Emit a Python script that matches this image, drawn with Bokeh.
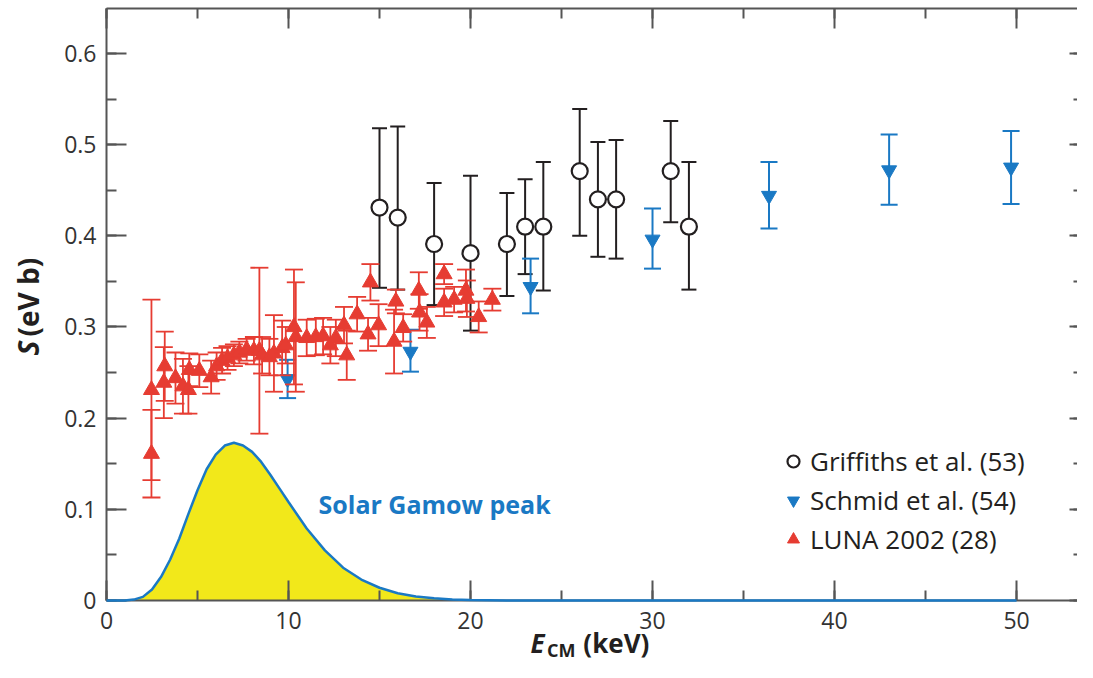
import math
from bokeh.plotting import figure
from bokeh.models import (ColumnDataSource, LinearAxis, SingleIntervalTicker,
                          CustomJSTickFormatter, Legend, LegendItem, Label, Range1d)
from bokeh.embed import file_html
from bokeh.resources import INLINE

# ---------------- data ----------------
griffiths_e = [15, 16, 18, 20, 22, 23, 24, 26, 27, 28, 31, 32]
griffiths_s = [0.431, 0.420, 0.391, 0.381, 0.391, 0.410, 0.410, 0.471, 0.440, 0.440, 0.471, 0.410]
griffiths_lo = [0.343, 0.341, 0.324, 0.296, 0.334, 0.358, 0.340, 0.400, 0.377, 0.375, 0.415, 0.341]
griffiths_hi = [0.518, 0.520, 0.458, 0.466, 0.447, 0.462, 0.481, 0.539, 0.503, 0.505, 0.526, 0.481]

schmid_e = [9.95, 16.7, 23.3, 30.0, 36.4, 43.0, 49.7]
schmid_s = [0.243, 0.273, 0.344, 0.396, 0.444, 0.472, 0.475]
schmid_lo = [0.222, 0.251, 0.315, 0.364, 0.408, 0.434, 0.435]
schmid_hi = [0.264, 0.297, 0.375, 0.430, 0.481, 0.511, 0.515]

luna_e = [2.47, 2.47, 3.15, 3.2, 3.79, 4.2, 4.5, 4.55, 5.1, 5.75, 6.05, 6.35, 6.65, 7.0,
          7.3, 7.7, 8.1, 8.4, 8.55, 8.95, 9.2, 9.65, 9.85, 10.3, 10.4, 11.0, 11.5, 11.9,
          12.3, 12.6, 13.05, 13.2, 13.77, 14.37, 14.5, 14.95, 15.8, 15.9, 16.3, 17.16,
          17.2, 17.6, 18.55, 18.55, 19.1, 19.75, 19.8, 20.45, 21.2]
luna_s = [0.231, 0.161, 0.239, 0.257, 0.244, 0.235, 0.231, 0.253, 0.252, 0.245, 0.257,
          0.263, 0.266, 0.269, 0.272, 0.275, 0.274, 0.274, 0.269, 0.267, 0.271, 0.277,
          0.280, 0.300, 0.289, 0.288, 0.289, 0.290, 0.280, 0.288, 0.302, 0.269, 0.314,
          0.292, 0.349, 0.302, 0.284, 0.328, 0.299, 0.340, 0.316, 0.305, 0.358, 0.327,
          0.330, 0.340, 0.331, 0.311, 0.330]
luna_err = [0.099, 0.048, 0.039, 0.038, 0.028, 0.030, 0.026, 0.018, 0.018, 0.018, 0.015,
            0.014, 0.013, 0.012, 0.012, 0.012, 0.015, 0.091, 0.020, 0.020, 0.042, 0.030,
            0.020, 0.063, 0.060, 0.020, 0.020, 0.020, 0.020, 0.020, 0.020, 0.027, 0.019,
            0.018, 0.020, 0.023, 0.035, 0.013, 0.015, 0.020, 0.020, 0.017, 0.011, 0.015,
            0.014, 0.023, 0.020, 0.017, 0.012]

gamow_e = [0, 1.0, 1.5, 2.0, 2.5, 3.0, 3.5, 4.0, 4.5, 5.0, 5.5, 6.0, 6.5, 7.0, 7.5, 8.0,
           8.5, 9.0, 9.5, 10.0, 11.0, 12.0, 13.0, 14.0, 15.0, 16.0, 17.0, 18.0, 19.0,
           20.0, 22.0, 25.0, 50.0]
gamow_s = [0, 0, 0.001, 0.004, 0.012, 0.026, 0.045, 0.068, 0.095, 0.121, 0.144, 0.160,
           0.170, 0.173, 0.170, 0.163, 0.152, 0.138, 0.123, 0.108, 0.079, 0.055, 0.036,
           0.023, 0.014, 0.008, 0.0045, 0.0025, 0.0012, 0.0005, 0.0001, 0, 0]

x_ticks_interval = 10
y_ticks_interval = 0.1
x_end = 53.35
y_top = 0.6493
legend_labels = ["Griffiths et al. (53)", "Schmid et al. (54)", "LUNA 2002 (28)"]

# ---------------- style ----------------
FONT = "Open Sans"
RED = "#e63c32"
BLUE = "#1a79c4"
BLACK = "#231f20"
AXIS = "#555555"
YELLOW = "#f2e81a"

# the frame fills the whole canvas; axes are pinned at fixed data positions
p = figure(width=1077, height=662, x_range=Range1d(-5.824, x_end),
           y_range=Range1d(-0.0680, 0.6581),
           output_backend="svg", toolbar_location=None, x_axis_type=None, y_axis_type=None,
           min_border=0)
p.outline_line_color = None
p.xgrid.visible = False
p.ygrid.visible = False
p.background_fill_color = "white"
p.border_fill_color = "white"


def style_axis(ax, show_labels=True, tick_scale=1.0):
    ax.axis_line_color = AXIS
    ax.axis_line_width = 2
    ax.major_tick_line_color = AXIS
    ax.minor_tick_line_color = AXIS
    ax.major_tick_line_width = 2
    ax.minor_tick_line_width = 2
    ax.major_tick_in = int(20 * tick_scale)
    ax.major_tick_out = 0
    ax.minor_tick_in = int(10 * tick_scale)
    ax.minor_tick_out = 0
    if show_labels:
        ax.major_label_text_font = FONT
        ax.major_label_text_font_size = "23px"
        ax.major_label_text_color = "#333333"
    else:
        ax.major_label_text_font_size = "1px"
        ax.major_label_standoff = 0
        ax.formatter = CustomJSTickFormatter(code="return ''")


xb = LinearAxis(ticker=SingleIntervalTicker(interval=x_ticks_interval, num_minor_ticks=2),
                bounds=(0, x_end), fixed_location=0)
style_axis(xb)
xb.major_label_standoff = 11
xb.formatter = CustomJSTickFormatter(code="return tick.toFixed(0)")
p.add_layout(xb, "below")

yl = LinearAxis(ticker=SingleIntervalTicker(interval=y_ticks_interval, num_minor_ticks=2),
                bounds=(0, y_top), fixed_location=0)
style_axis(yl)
yl.major_label_standoff = 10
yl.formatter = CustomJSTickFormatter(code="return Math.abs(tick) < 1e-9 ? '0' : tick.toFixed(1)")
p.add_layout(yl, "left")

xt = LinearAxis(ticker=SingleIntervalTicker(interval=x_ticks_interval, num_minor_ticks=2),
                bounds=(0, x_end), fixed_location=y_top)
style_axis(xt, show_labels=False)
p.add_layout(xt, "above")

yr = LinearAxis(ticker=SingleIntervalTicker(interval=y_ticks_interval, num_minor_ticks=2),
                bounds=(0, y_top), fixed_location=x_end)
style_axis(yr, show_labels=False, tick_scale=0.4)
yr.axis_line_color = None
p.add_layout(yr, "right")

# ---------------- Gamow peak ----------------
gsrc = ColumnDataSource(dict(x=gamow_e, y=gamow_s))
p.varea(x="x", y1=0, y2="y", source=gsrc, fill_color=YELLOW)
p.line(x="x", y="y", source=gsrc, line_color=BLUE, line_width=2.5, level="annotation")

# ---------------- Griffiths ----------------
gr = ColumnDataSource(dict(x=griffiths_e, y=griffiths_s, lo=griffiths_lo, hi=griffiths_hi))
p.segment(x0="x", y0="lo", x1="x", y1="hi", source=gr, line_color=BLACK, line_width=2)
p.scatter(x="x", y="lo", source=gr, marker="dash", size=15, line_color=BLACK, line_width=2)
p.scatter(x="x", y="hi", source=gr, marker="dash", size=15, line_color=BLACK, line_width=2)
g_r = p.scatter(x="x", y="y", source=gr, marker="circle", size=16, fill_color="white",
                line_color=BLACK, line_width=2.2)

# ---------------- Schmid ----------------
sc = ColumnDataSource(dict(x=schmid_e, y=schmid_s, lo=schmid_lo, hi=schmid_hi))
p.segment(x0="x", y0="lo", x1="x", y1="hi", source=sc, line_color=BLUE, line_width=2)
p.scatter(x="x", y="lo", source=sc, marker="dash", size=17, line_color=BLUE, line_width=2)
p.scatter(x="x", y="hi", source=sc, marker="dash", size=17, line_color=BLUE, line_width=2)
s_r = p.scatter(x="x", y="y", source=sc, marker="inverted_triangle", size=15,
                fill_color=BLUE, line_color=BLUE)

# ---------------- LUNA ----------------
lo_l = [s - e for s, e in zip(luna_s, luna_err)]
hi_l = [s + e for s, e in zip(luna_s, luna_err)]
lu = ColumnDataSource(dict(x=luna_e, y=luna_s, lo=lo_l, hi=hi_l))
p.segment(x0="x", y0="lo", x1="x", y1="hi", source=lu, line_color=RED, line_width=1.8)
p.scatter(x="x", y="lo", source=lu, marker="dash", size=18, line_color=RED, line_width=1.8)
p.scatter(x="x", y="hi", source=lu, marker="dash", size=18, line_color=RED, line_width=1.8)
l_r = p.scatter(x="x", y="y", source=lu, marker="triangle", size=16,
                fill_color=RED, line_color=RED)

# ---------------- legend ----------------
legend = Legend(items=[LegendItem(label=legend_labels[0], renderers=[g_r]),
                       LegendItem(label=legend_labels[1], renderers=[s_r]),
                       LegendItem(label=legend_labels[2], renderers=[l_r])],
                location=(778, 105), orientation="vertical")
legend.padding = 0
legend.margin = 0
legend.spacing = 3
legend.glyph_width = 30
legend.glyph_height = 30
legend.label_height = 30
legend.label_standoff = 2
legend.label_text_font = FONT
legend.label_text_font_size = "26px"
legend.label_text_color = BLACK
legend.border_line_color = None
legend.background_fill_alpha = 0
p.add_layout(legend)

# ---------------- texts ----------------
p.add_layout(Label(x=11.65, y=0.106, text="Solar Gamow peak", text_font=FONT,
                   text_font_size="25px", text_font_style="bold", text_color=BLUE,
                   text_baseline="middle", text_align="left"))

# x-axis title: E_CM (keV)
p.add_layout(Label(x=23.3, y=-0.047, text="E", text_font=FONT, text_font_size="26px",
                   text_font_style="bold italic", text_color=BLACK,
                   text_baseline="middle", text_align="left"))
p.add_layout(Label(x=24.2, y=-0.054, text="CM", text_font=FONT, text_font_size="18px",
                   text_font_style="bold", text_color=BLACK,
                   text_baseline="middle", text_align="left"))
p.add_layout(Label(x=26.2, y=-0.047, text="(keV)", text_font=FONT, text_font_size="26px",
                   text_font_style="bold", text_color=BLACK,
                   text_baseline="middle", text_align="left"))

# y-axis title: S (eV b), rotated
p.add_layout(Label(x=-4.29, y=0.2687, text="S", text_font=FONT, text_font_size="28px",
                   text_font_style="bold italic", text_color=BLACK, angle=math.pi / 2,
                   text_baseline="middle", text_align="left"))
p.add_layout(Label(x=-4.29, y=0.2896, text="(eV b)", text_font=FONT, text_font_size="28px",
                   text_font_style="bold", text_color=BLACK, angle=math.pi / 2,
                   text_baseline="middle", text_align="left"))

open("out.html", "w").write(file_html(p, INLINE))
